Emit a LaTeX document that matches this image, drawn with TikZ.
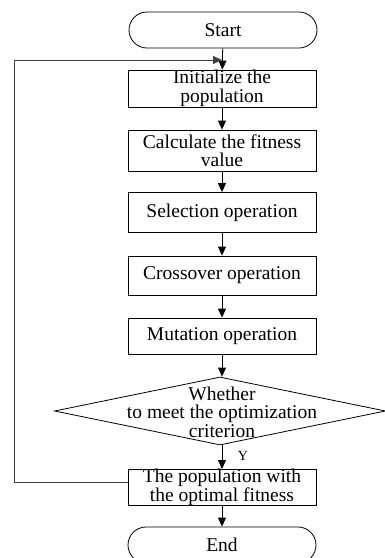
\documentclass[tikz,border=0pt]{standalone}
\usepackage{fontspec}
\setmainfont{Liberation Serif}
\usetikzlibrary{arrows.meta,shapes.geometric}

\begin{document}
\begin{tikzpicture}[x=1pt,y=-1pt,>={Triangle[length=9pt,width=8pt]},line width=0.8pt,
  font=\fontsize{19.5}{18.5}\selectfont,
  box/.style={draw,minimum width=188pt,inner sep=0pt,align=center},
  term/.style={draw,rounded corners=18pt,minimum width=188pt,minimum height=36pt,inner sep=0pt}]
  \useasboundingbox (0,0) rectangle (384,558);
  % blocchi
  \node[term] (start) at (223,30) {Start};
  \node[box,minimum height=37pt] (init) at (222,88.5) {Initialize the\\population};
  \node[box,minimum height=41pt] (fit) at (222,150.5) {Calculate the fitness\\value};
  \node[box,minimum height=40pt] (sel) at (222,212.5) {Selection operation};
  \node[box,minimum height=39pt] (cross) at (222,275.5) {Crossover operation};
  \node[box,minimum height=36pt] (mut) at (222,336) {Mutation operation};
  \node[draw,diamond,minimum width=331pt,minimum height=68pt,inner sep=0pt] (dec) at (220,411) {};
  \node[align=center] (dectxt) at (222,412) {Whether\\to meet the optimization\\criterion};
  \node[box,minimum height=35pt] (best) at (222,487.5) {The population with\\the optimal fitness};
  \node[term] (end) at (222,545) {End};
  % frecce
  \draw[->] (start) -- (init);
  \draw[->] (init) -- (fit);
  \draw[->] (fit) -- (sel);
  \draw[->] (sel) -- (cross);
  \draw[->] (cross) -- (mut);
  \draw[->] (mut.south) -- (mut.south |- dec.north);
  \draw[->] (mut.south |- dec.south) -- (best);
  \node[font=\fontsize{14}{14}\selectfont] (y) at (243,456) {Y};
  \draw[->] (best) -- (end);
  % ritorno
  \coordinate (loop) at (14,482);
  \coordinate (join) at (222,60);
  \draw[->,black!75] ([yshift=5.5pt]best.west) -- (loop) |- (join);
\end{tikzpicture}
\end{document}
